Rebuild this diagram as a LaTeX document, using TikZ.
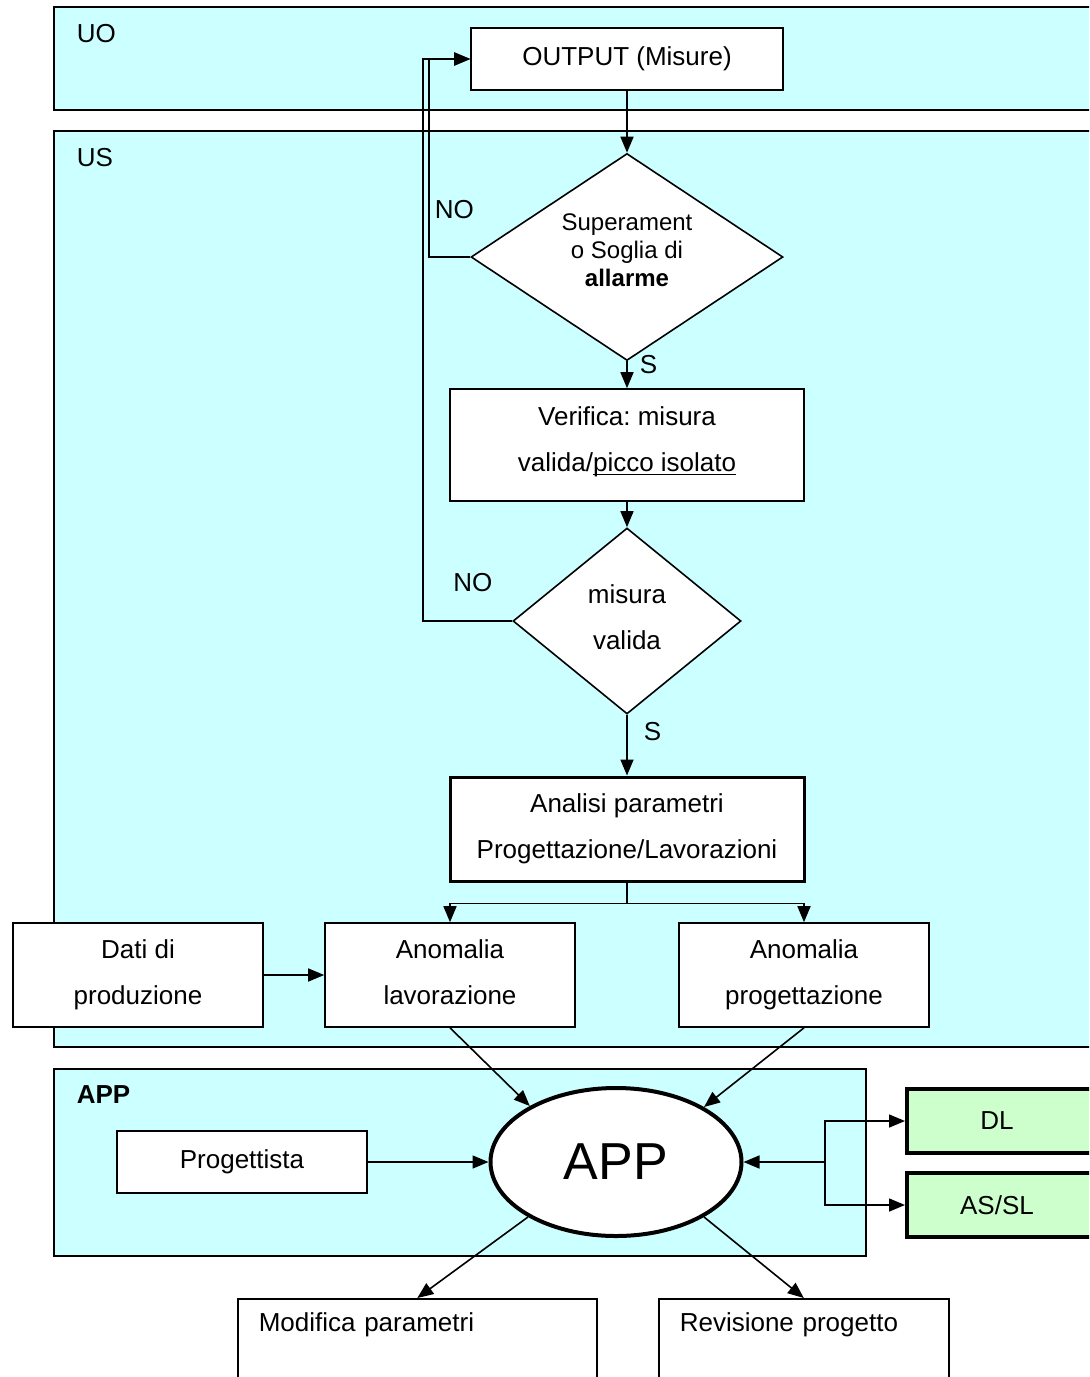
\documentclass[tikz,border=0pt]{standalone}
\usepackage{fontspec}
\setmainfont{Liberation Sans}
\frenchspacing
\usetikzlibrary{shapes.geometric,arrows.meta}
\definecolor{lanecol}{RGB}{204,255,255}
\definecolor{extcol}{RGB}{204,255,204}
\newcommand{\sottolinea}[1]{\setbox0\hbox{#1}\rlap{\rule[-1.8pt]{\wd0}{0.6pt}}\box0}
\tikzset{
    >={Triangle[length=8pt,width=6.5pt]},
    lane/.style={draw,fill=lanecol},
    box/.style={draw,fill=white,minimum width=125pt,minimum height=52pt,
        align=center,inner sep=2pt,font=\fontsize{13}{23}\selectfont},
    dec/.style={diamond,draw,fill=white,align=center,inner sep=0pt},
    extbox/.style={draw,fill=extcol,line width=2pt,minimum width=100pt,
        minimum height=32pt,font=\fontsize{13}{16}\selectfont},
    botbox/.style={draw,fill=white,anchor=north west,align=left,inner xsep=10.5pt,
        inner ysep=0pt,text height=16.5pt,text depth=70pt,font=\fontsize{13}{16}\selectfont},
    lbl/.style={inner sep=0pt,font=\fontsize{13}{16}\selectfont}
}
\begin{document}
\begin{tikzpicture}[x=0.5pt,y=-0.5pt,line width=0.8pt]
    \useasboundingbox (0,0) rectangle (1089,1377);
    \clip (0,0) rectangle (1089,1377);
    % Corsie
    \draw [lane] (54,7) rectangle (1110,110);
    \draw [lane] (54,131) rectangle (1110,1047);
    \draw [lane] (54,1069) rectangle (866,1256);
    \node [lbl,anchor=west] (uo) at (76,34) {UO};
    \node [lbl,anchor=west] (us) at (76,158) {US};
    \node [lbl,anchor=west,font=\fontsize{13}{16}\selectfont\bfseries] (lapp) at (76,1095) {APP};
    % Blocchi
    \node [box,minimum width=156pt,minimum height=31pt] (out) at (627,59) {OUTPUT (Misure)};
    \node [dec,aspect=1.5,minimum width=156pt,minimum height=103.5pt,
        font=\fontsize{12}{14}\selectfont] (sog) at (627,257)
        {Superament\\o Soglia di\\\textbf{allarme}\rule[-7pt]{0pt}{0pt}};
    \node [box,minimum width=177pt,minimum height=56pt] (ver) at (627,445)
        {Verifica: misura\\valida/\sottolinea{picco isolato}\rule[-6pt]{0pt}{0pt}};
    \node [dec,minimum width=114pt,minimum height=93pt,
        font=\fontsize{13}{23}\selectfont] (val) at (627,621) {misura\\valida\rule[-4pt]{0pt}{0pt}};
    \node [box,minimum width=177pt,line width=1.5pt] (ana) at (627,829)
        {Analisi parametri\\Progettazione/Lavorazioni};
    \node [box] (dati) at (138,975) {Dati di\\produzione};
    \node [box] (lav) at (450,975) {Anomalia\\lavorazione\rule[-3pt]{0pt}{0pt}};
    \node [box] (prog) at (804,975) {Anomalia\\progettazione};
    \node [ellipse,draw,fill=white,line width=2pt,minimum width=125.5pt,
        minimum height=74pt,font=\fontsize{26}{28}\selectfont] (app) at (616,1162) {APP};
    \node [box,minimum height=31pt] (progt) at (242,1162) {Progettista};
    \node [extbox] (dl) at (1007,1121) {DL\kern10pt};
    \node [extbox] (assl) at (1007,1205) {AS/SL\kern10pt};
    \node [botbox,text width=158.5pt] (mod) at (237,1298) {Modifica parametri};
    \node [botbox,text width=124pt] (rev) at (658,1298) {Revisione progetto};
    \coordinate (hub) at (825,1162);
    % Frecce
    \draw [->] (out) -- (sog);
    \draw [->] (sog.south) -- node [lbl,pos=0.12,anchor=west,xshift=6pt] {S} (ver.north);
    \draw [->] (ver) -- (val);
    \draw [->] (val.south) -- node [lbl,pos=0.27,anchor=west,xshift=8pt] {S} (ana.north);
    \draw [->] (sog.west) -| node [lbl,pos=0.62,anchor=west,xshift=2.5pt] {NO} (429,59) -- (out.west);
    \draw [->] (val.west) -| node [lbl,pos=0.22,anchor=south,yshift=14pt] {NO} (423,59) -- (out.west);
    \draw [->] (ana.south) -- ++(0,21) -| (lav.north);
    \draw [->] (ana.south) -- ++(0,21) -| (prog.north);
    \draw [->] (dati) -- (lav);
    \draw [->] (lav.south) -- (app.147);
    \draw [->] (prog.south) -- (app.32);
    \draw [->] (progt) -- (app);
    \draw [->] (hub) -- (app.east);
    \draw [->] (hub) |- (dl.west);
    \draw [->] (hub) |- (assl.west);
    \draw [->] (app.212) -- (mod.north);
    \draw [->] (app.328) -- (rev.north);
\end{tikzpicture}
\end{document}
